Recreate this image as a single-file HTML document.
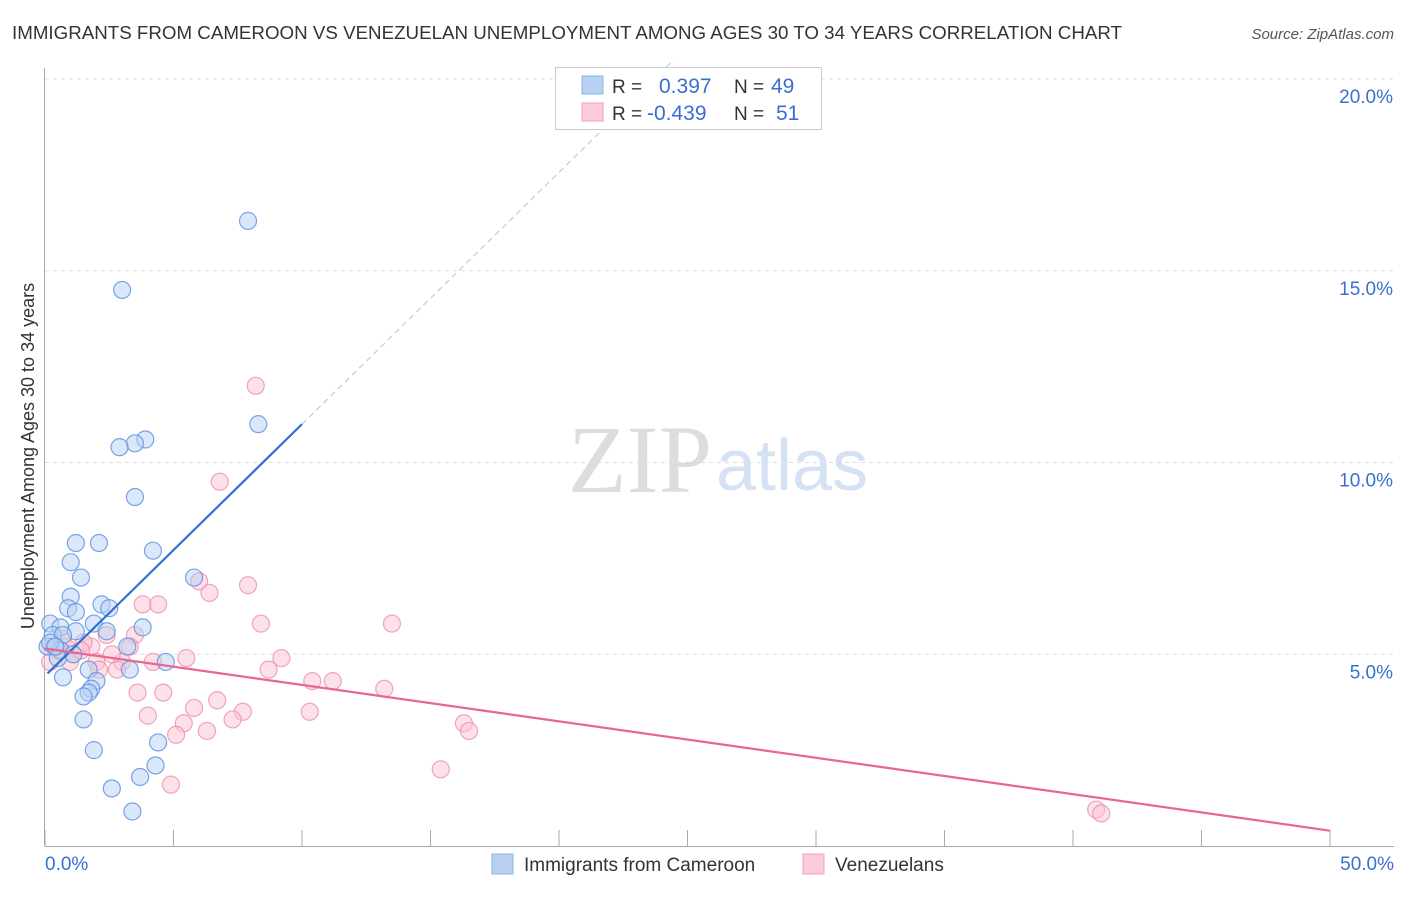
<!DOCTYPE html>
<html><head><meta charset="utf-8"><style>
body{margin:0;background:#fff;font-family:"Liberation Sans",sans-serif}
svg text{font-family:"Liberation Sans",sans-serif}
</style></head><body>
<svg id="chart" width="1406" height="892" viewBox="0 0 1406 892">
<text x="12" y="39" font-size="18" fill="#333" textLength="1110" lengthAdjust="spacingAndGlyphs">IMMIGRANTS FROM CAMEROON VS VENEZUELAN UNEMPLOYMENT AMONG AGES 30 TO 34 YEARS CORRELATION CHART</text>
<text x="1394" y="39" font-size="15" fill="#555" font-style="italic" text-anchor="end">Source: ZipAtlas.com</text>
<g id="grid"></g>
<text x="712" y="492" font-size="96" fill="#ddd" text-anchor="end" style="font-family:'Liberation Serif',serif">ZIP</text>
<text x="716" y="490" font-size="72" fill="#d5e2f3">atlas</text>
<g id="axes"></g>
<g id="marks"></g>
<text transform="translate(34,456) rotate(-90)" font-size="18" fill="#333" text-anchor="middle">Unemployment Among Ages 30 to 34 years</text>
<g>
<rect x="555.5" y="67.5" width="266" height="62" fill="#fff" stroke="#ccc"/>
<rect x="582" y="76" width="21" height="18" fill="#b8d1f3" stroke="#8db4ea"/>
<rect x="582" y="103" width="21" height="18" fill="#fccbd8" stroke="#f0a0b8"/>
<text x="612" y="93" font-size="19" fill="#333">R = </text><text x="659" y="93" font-size="21" fill="#3a6fd0">0.397</text>
<text x="734" y="93" font-size="19" fill="#333">N = </text><text x="771" y="93" font-size="21" fill="#3a6fd0">49</text>
<text x="612" y="120" font-size="19" fill="#333">R = </text><text x="647" y="120" font-size="21" fill="#3a6fd0">-0.439</text>
<text x="734" y="120" font-size="19" fill="#333">N = </text><text x="776" y="120" font-size="21" fill="#3a6fd0">51</text>
</g>
<g>
<rect x="492" y="854" width="21" height="20" fill="#b8d1f3" stroke="#8db4ea"/>
<text x="524" y="871" font-size="19" fill="#333">Immigrants from Cameroon</text>
<rect x="803" y="854" width="21" height="20" fill="#fccbd8" stroke="#f0a0b8"/>
<text x="835" y="871" font-size="19" fill="#333">Venezuelans</text>
</g>
</svg>
<script>
const yTicks=[5,10,15,20];
const yTickLabels=["5.0%","10.0%","15.0%","20.0%"];
const blueX=[7.9,3.0,8.3,3.9,3.5,2.9,3.5,2.1,1.2,4.2,1.0,1.4,5.8,1.0,2.2,2.5,0.9,1.2,1.9,0.2,0.6,3.8,2.4,1.2,0.3,0.7,3.2,0.4,0.1,0.6,1.1,4.7,0.5,1.7,3.3,0.7,2.0,1.8,1.7,1.5,1.5,1.9,4.4,4.3,3.7,2.6,3.4,0.2,0.4];
const blueY=[16.3,14.5,11.0,10.6,10.5,10.4,9.1,7.9,7.9,7.7,7.4,7.0,7.0,6.5,6.3,6.2,6.2,6.1,5.8,5.8,5.7,5.7,5.6,5.6,5.5,5.5,5.2,5.2,5.2,5.1,5.0,4.8,4.9,4.6,4.6,4.4,4.3,4.1,4.0,3.9,3.3,2.5,2.7,2.1,1.8,1.5,0.9,5.3,5.2];
const pinkX=[8.2,6.8,7.9,6.0,6.4,3.8,4.4,8.4,13.5,3.5,2.4,3.3,0.7,0.5,1.1,1.8,1.5,9.2,5.5,4.2,3.0,2.8,8.7,0.97,2.0,10.4,11.2,13.2,4.6,3.6,6.7,5.8,10.3,4.0,7.7,5.4,7.3,6.3,5.1,16.3,16.5,15.4,4.9,40.9,41.1,2.1,0.2,1.4,0.35,0.8,2.6];
const pinkY=[12.0,9.5,6.8,6.9,6.6,6.3,6.3,5.8,5.8,5.5,5.5,5.2,5.4,5.1,5.0,5.2,5.3,4.9,4.9,4.8,4.8,4.6,4.6,4.8,4.8,4.3,4.3,4.1,4.0,4.0,3.8,3.6,3.5,3.4,3.5,3.2,3.3,3.0,2.9,3.2,3.0,2.0,1.6,0.95,0.85,4.6,4.8,5.1,5.2,5.2,5.0];
const blueTrend=[0.1,4.5,10.0,11.0];
const pinkTrend=[0,5.15,50,0.4];
const X0=45,X1=1330,Y0=846,Y20=79;
const sx=v=>X0+(X1-X0)*v/50, sy=v=>Y0-(Y0-Y20)*v/20;
const NS="http://www.w3.org/2000/svg";
function mk(tag,attrs,parent){const e=document.createElementNS(NS,tag);for(const k in attrs)e.setAttribute(k,attrs[k]);parent.appendChild(e);return e;}
const grid=document.getElementById('grid'),axes=document.getElementById('axes'),marks=document.getElementById('marks');
yTicks.forEach((t,i)=>{
 const l=mk('line',{x1:45,x2:1394,y1:sy(t),y2:sy(t),stroke:'#ddd','stroke-dasharray':'4,4'},grid);
 
 
 const tx=mk('text',{x:1393,y:sy(t)+24,'font-size':19,fill:'#3a6fd0','text-anchor':'end'},axes);
 tx.textContent=yTickLabels[i];
 
 
});
const ya=mk('line',{x1:44.5,x2:44.5,y1:68,y2:846,stroke:'#aaa'},axes);


const xa=mk('line',{x1:45,x2:1394,y1:846.5,y2:846.5,stroke:'#aaa'},axes);


for(let i=0;i<=10;i++){const t=mk('line',{x1:sx(i*5),x2:sx(i*5),y1:830,y2:846,stroke:'#aaa'},axes);
 
 }
[["0.0%",45,'start'],["50.0%",1394,'end']].forEach(a=>{const t=mk('text',{x:a[1],y:870,'font-size':19,fill:'#3a6fd0','text-anchor':a[2]},axes);t.textContent=a[0];
 
 });
function dots(xs,ys,fill,stroke,name){xs.forEach((x,i)=>{const c=mk('circle',{cx:sx(x),cy:sy(ys[i]),r:8.5,fill:fill,'fill-opacity':0.5,stroke:stroke,'stroke-opacity':0.8,'stroke-width':1.2},marks);
 
 });}
dots(pinkX,pinkY,'#fbc3d3','#ee8fae','venezuelan-point');
dots(blueX,blueY,'#b8d1f3','#5a8fe0','cameroon-point');
const bt=mk('line',{x1:sx(blueTrend[0]),y1:sy(blueTrend[1]),x2:sx(blueTrend[2]),y2:sy(blueTrend[3]),stroke:'#2f6fd6','stroke-width':2.2},marks);


const slope=(blueTrend[3]-blueTrend[1])/(blueTrend[2]-blueTrend[0]);
const xe=blueTrend[2]+(20.5-blueTrend[3])/slope;
const bd=mk('line',{x1:sx(blueTrend[2]),y1:sy(blueTrend[3]),x2:sx(xe),y2:sy(20.5),stroke:'#a8c4ec','stroke-width':1,'stroke-dasharray':'6,4'},marks);


const pt=mk('line',{x1:sx(pinkTrend[0]),y1:sy(pinkTrend[1]),x2:sx(pinkTrend[2]),y2:sy(pinkTrend[3]),stroke:'#e8668f','stroke-width':2.2},marks);


</script>
</body></html>
